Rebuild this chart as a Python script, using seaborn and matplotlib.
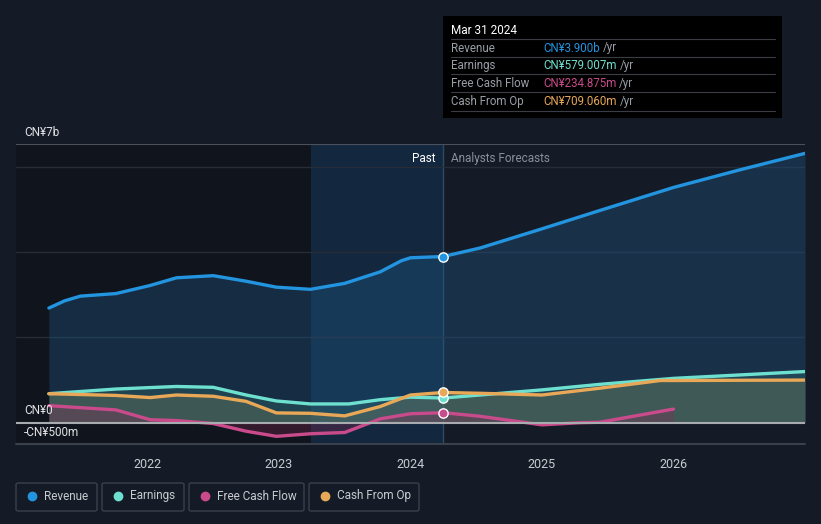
import numpy as np
import pandas as pd
import matplotlib
matplotlib.use('Agg')
import matplotlib.pyplot as plt
import seaborn as sns
from matplotlib.patches import Rectangle, FancyBboxPatch
from matplotlib.lines import Line2D

# данные (млрд CN¥)
rev_x = [2021.25, 2021.37, 2021.49, 2021.76, 2022.02, 2022.22, 2022.5, 2022.75, 2022.98, 2023.24,
         2023.5, 2023.77, 2023.93, 2024.0, 2024.25, 2024.53, 2025.0, 2025.44, 2026.0, 2026.5, 2027.0]
rev_y = [2.69, 2.86, 2.97, 3.03, 3.22, 3.40, 3.45, 3.32, 3.18, 3.13,
         3.27, 3.54, 3.80, 3.87, 3.90, 4.10, 4.55, 4.98, 5.52, 5.93, 6.32]

earn_x = [2021.25, 2021.76, 2022.22, 2022.5, 2022.75, 2022.98, 2023.24, 2023.53, 2023.77,
          2024.0, 2024.25, 2025.0, 2025.44, 2026.0, 2027.0]
earn_y = [0.68, 0.79, 0.85, 0.83, 0.65, 0.51, 0.44, 0.44, 0.54,
          0.60, 0.579, 0.77, 0.90, 1.04, 1.20]

fcf_x = [2021.25, 2021.76, 2022.02, 2022.22, 2022.5, 2022.75, 2022.98, 2023.24, 2023.5,
         2023.77, 2024.0, 2024.25, 2024.53, 2025.0, 2025.29, 2025.44, 2026.0]
fcf_y = [0.40, 0.30, 0.07, 0.05, -0.02, -0.20, -0.32, -0.26, -0.23,
         0.09, 0.21, 0.235, 0.15, -0.05, 0.0, 0.01, 0.32]

cfo_x = [2021.25, 2021.76, 2022.02, 2022.22, 2022.5, 2022.75, 2022.98, 2023.24, 2023.5,
         2023.77, 2024.0, 2024.25, 2024.53, 2025.0, 2025.44, 2025.9, 2026.0, 2027.0]
cfo_y = [0.68, 0.64, 0.59, 0.65, 0.62, 0.50, 0.23, 0.22, 0.16,
         0.38, 0.65, 0.709, 0.69, 0.65, 0.81, 0.99, 0.99, 1.00]

names = ['Revenue', 'Earnings', 'Free Cash Flow', 'Cash From Op']
colors = ['#2394df', '#6ee0d0', '#c94b8b', '#e8a857']
tip_values = ['CN¥3.900b', 'CN¥579.007m', 'CN¥234.875m', 'CN¥709.060m']
year_ticks = [2022, 2023, 2024, 2025, 2026]
now_x = 2024.25

series = [(rev_x, rev_y), (earn_x, earn_y), (fcf_x, fcf_y), (cfo_x, cfo_y)]
df = pd.concat([pd.DataFrame({'x': xs, 'y': ys, 'name': n})
                for (xs, ys), n in zip(series, names)], ignore_index=True)

sns.set_theme(style='dark')
plt.rcParams['font.family'] = ['Roboto', 'DejaVu Sans']

bg = '#151b26'
W, H = 821, 524
fig = plt.figure(figsize=(W / 100, H / 100), dpi=100, facecolor=bg)
ax = fig.add_axes([16 / W, 80 / H, 789 / W, 300 / H])
ax.set_facecolor(bg)

x0, x1 = 2021.0, 2027.0
y0, y1 = -0.5, 6.54
ax.set_xlim(x0, x1)
ax.set_ylim(y0, y1)

# затемнённая область прошлого и подсветка последнего года
ax.add_patch(Rectangle((x0, y0), 2023.24 - x0, y1 - y0, color='#0d1016', alpha=0.6, zorder=0, lw=0))
ax.add_patch(Rectangle((2023.24, y0), now_x - 2023.24, y1 - y0, color='#123a5c', alpha=0.45, zorder=0, lw=0))
ax.axvline(now_x, color='#2a4a66', lw=1, zorder=1)

# сетка
for g in [2, 4, 6]:
    ax.axhline(g, color='#262d39', lw=1, zorder=1)
ax.axhline(y1, color='#4a505c', lw=1.5, zorder=1)
ax.axhline(0, color='#a8abb0', lw=1.5, zorder=4)

# заливка под линиями
ax.fill_between(rev_x, rev_y, 0, color='#1f5a8a', alpha=0.35, lw=0, zorder=2)
ax.fill_between(cfo_x, cfo_y, 0, color='#8a7a50', alpha=0.35, lw=0, zorder=2)
ax.fill_between(earn_x, earn_y, 0, color='#3f8a80', alpha=0.25, lw=0, zorder=2)
ax.fill_between(fcf_x, fcf_y, 0, color='#8a2a55', alpha=0.3, lw=0, zorder=2)

sns.lineplot(data=df, x='x', y='y', hue='name', palette=dict(zip(names, colors)),
             linewidth=2.4, legend=False, ax=ax, zorder=3, sort=False)

# маркеры на текущей дате
for (xs, ys), c in zip(series, colors):
    ax.scatter([now_x], [ys[xs.index(now_x)]], s=45, color=c, edgecolor='white',
               linewidth=1, zorder=6)

for s in ax.spines.values():
    s.set_visible(False)
ax.set_xticks(year_ticks)
ax.set_xticklabels([str(y) for y in year_ticks], color='#c8cbd0', fontsize=9)
ax.tick_params(axis='x', length=4, color='#4a505c', pad=6, direction='out')
ax.set_yticks([])
ax.set_xlabel('')
ax.set_ylabel('')
ax.plot([0, 1], [0, 0], transform=ax.transAxes, color='#3a404c', lw=1.5, clip_on=False, zorder=5)

ax.text(2024.19, 6.2, 'Past', color='white', fontsize=8.5, ha='right', va='center')
ax.text(2024.31, 6.2, 'Analysts Forecasts', color='#8a8f98', fontsize=8.5, ha='left', va='center')


def fx(px):
    return px / W


def fy(py):
    return 1 - py / H


fig.text(fx(24), fy(132), 'CN¥7b', color='#e0e2e6', fontsize=8.5, va='center')
fig.text(fx(24), fy(411), 'CN¥0', color='#e0e2e6', fontsize=8.5, va='center')
fig.text(fx(24), fy(432), '-CN¥500m', color='#e0e2e6', fontsize=8.5, va='center')

# всплывающая подсказка
fig.patches.append(Rectangle((fx(443), fy(118)), (782 - 443) / W, 102 / H, transform=fig.transFigure,
                             facecolor='black', edgecolor='none', zorder=10))
fig.text(fx(451), fy(31), 'Mar 31 2024', color='white', fontsize=8.5, va='center', zorder=11)
for i, (n, v, c) in enumerate(zip(names, tip_values, colors)):
    yy = 48 + i * 17.7
    fig.add_artist(Line2D([fx(451), fx(775)], [fy(yy - 9), fy(yy - 9)], color='#3a3d44', lw=0.8, zorder=11))
    fig.text(fx(451), fy(yy), n, color='#9a9ea6', fontsize=8.3, va='center', zorder=11)
    t = fig.text(fx(543), fy(yy), v, color=c, fontsize=8.3, va='center', zorder=11)
    fig.canvas.draw()
    bb = t.get_window_extent()
    fig.text(bb.x1 / W + 3 / W, fy(yy), '/yr', color='#9a9ea6', fontsize=8.3, va='center', zorder=11)
fig.add_artist(Line2D([fx(451), fx(775)], [fy(111), fy(111)], color='#3a3d44', lw=0.8, zorder=11))

# легенда
boxes = [(16, 97), (102, 184), (189, 304), (309, 419)]
for (bx0, bx1), n, c in zip(boxes, names, colors):
    fig.patches.append(FancyBboxPatch((fx(bx0), fy(511)), (bx1 - bx0) / W, 28 / H,
                                      boxstyle='round,pad=0,rounding_size=0.003',
                                      transform=fig.transFigure, facecolor='none',
                                      edgecolor='#3a404c', lw=1))
    fig.add_artist(Line2D([fx(bx0 + 16)], [fy(496)], marker='o', markersize=6, color=c, lw=0))
    fig.text(fx(bx0 + 28), fy(496), n, color='#c8cbd0', fontsize=8.5, va='center')

fig.savefig('out.png', dpi=100, facecolor=bg)
